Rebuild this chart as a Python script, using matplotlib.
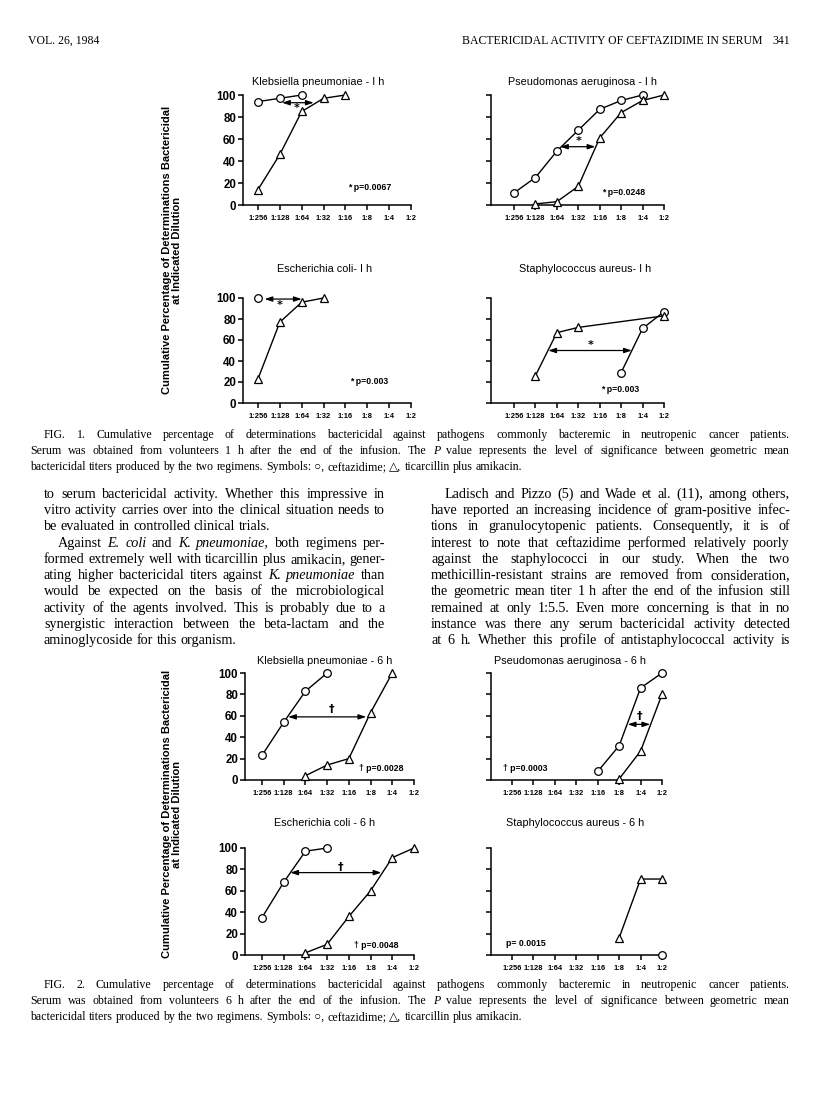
import matplotlib.pyplot as plt
import numpy as np

W, H = 816, 1093

dilutions = ['1:256', '1:128', '1:64', '1:32', '1:16', '1:8', '1:4', '1:2']

# FIG. 1 - 1 h   (x = index into dilutions)
kp1_cef_x, kp1_cef = [0, 1, 2], [94, 97, 100]
kp1_tic_x, kp1_tic = [0, 1, 2, 3, 4], [14, 46, 85, 97, 100]
pa1_cef_x, pa1_cef = [0, 1, 2, 3, 4, 5, 6], [11, 25, 49, 68, 87, 95, 100]
pa1_tic_x, pa1_tic = [1, 2, 3, 4, 5, 6, 7], [1, 3, 17, 61, 84, 95, 100]
ec1_cef_x, ec1_cef = [0], [100]
ec1_tic_x, ec1_tic = [0, 1, 2, 3], [23, 77, 96, 100]
sa1_cef_x, sa1_cef = [5, 6, 7], [29, 71, 87]
sa1_tic_x, sa1_tic = [1, 2, 3, 7], [26, 67, 72, 83]

# FIG. 2 - 6 h
kp6_cef_x, kp6_cef = [0, 1, 2, 3], [23, 54, 83, 100]
kp6_tic_x, kp6_tic = [2, 3, 4, 5, 6], [4, 14, 20, 63, 100]
pa6_cef_x, pa6_cef = [4, 5, 6, 7], [8, 32, 86, 100]
pa6_tic_x, pa6_tic = [5, 6, 7], [1, 27, 80]
ec6_cef_x, ec6_cef = [0, 1, 2, 3], [35, 68, 97, 100]
ec6_tic_x, ec6_tic = [2, 3, 4, 5, 6, 7], [2, 10, 36, 60, 91, 100]
sa6_cef_x, sa6_cef = [7], [0]
sa6_tic_x, sa6_tic = [5, 6, 7], [16, 71, 71]

SANS = 'Liberation Sans'
SERIF = ['Liberation Serif', 'DejaVu Serif', 'DejaVu Sans']

fig = plt.figure(figsize=(W / 100, H / 100), dpi=100)


def fy(y):
    return 1 - y / H


def panel(axis_x, x0, x7, y100, y0, labels=True):
    sp = (x7 - x0) / 7
    ax = fig.add_axes([axis_x / W, fy(y0), (x7 - axis_x) / W, (y0 - y100) / H])
    ax.set_xlim(-(x0 - axis_x) / sp, 7)
    ax.set_ylim(0, 100)
    ax.patch.set_alpha(0)
    for s in ['top', 'right']:
        ax.spines[s].set_visible(False)
    ax.spines['left'].set_linewidth(1.1)
    ax.spines['bottom'].set_linewidth(1.1)
    ax.set_xticks(range(8))
    ax.set_xticklabels(dilutions, fontsize=5.4, fontweight='bold', family=SANS)
    ax.set_yticks(range(0, 101, 20))
    if labels:
        ax.set_yticklabels([str(v) for v in range(0, 101, 20)], fontsize=8.3,
                           fontweight='bold', family=SANS)
    else:
        ax.set_yticklabels([])
    ax.tick_params(axis='both', direction='out', length=3.5, width=1.1, pad=1.5)
    ax.tick_params(axis='x', pad=4)
    return ax


def curves(ax, cx, cy, tx, ty):
    ax.plot(cx, cy, '-', color='black', lw=1.0, marker='o', ms=5.5,
            mfc='white', mec='black', mew=0.9, clip_on=False, zorder=3)
    ax.plot(tx, ty, '-', color='black', lw=1.0, marker='^', ms=6,
            mfc='white', mec='black', mew=0.9, clip_on=False, zorder=3)


def sig(ax, y, xa, xb, sx, sy, sym):
    ax.annotate('', xy=(xb, y), xytext=(xa, y),
                arrowprops=dict(arrowstyle='<|-|>,head_length=0.45,head_width=0.15',
                                color='black', lw=0.9, shrinkA=0, shrinkB=0))
    ax.text(sx, sy, sym, ha='center', va='center', fontsize=8, fontweight='bold')


def ptext(ax, x, y, s):
    ax.text(x, y, s, ha='left', va='center', fontsize=6.3, fontweight='bold', family=SANS)


def title(x, y, s):
    fig.text(x / W, fy(y), s, ha='center', va='center', fontsize=7.8, family=SANS)


# ---------------- FIG. 1 ----------------
ax = panel(243, 258, 411, 95, 205)
curves(ax, kp1_cef_x, kp1_cef, kp1_tic_x, kp1_tic)
sig(ax, 93, 1.1, 2.55, 1.75, 88, '*')
ptext(ax, 4.1, 16, '* p=0.0067')
title(318, 82, 'Klebsiella pneumoniae - I h')

ax = panel(491, 514, 664, 95, 205, labels=False)
curves(ax, pa1_cef_x, pa1_cef, pa1_tic_x, pa1_tic)
sig(ax, 53, 2.15, 3.8, 3.0, 58, '*')
ptext(ax, 4.1, 11, '* p=0.0248')
title(583, 82, 'Pseudomonas aeruginosa - I h')

ax = panel(243, 258, 411, 298, 403)
curves(ax, ec1_cef_x, ec1_cef, ec1_tic_x, ec1_tic)
sig(ax, 99, 0.3, 2.0, 1.0, 93, '*')
ptext(ax, 4.2, 20, '* p=0.003')
title(325, 269, 'Escherichia coli- I h')

ax = panel(491, 514, 664, 298, 403, labels=False)
curves(ax, sa1_cef_x, sa1_cef, sa1_tic_x, sa1_tic)
sig(ax, 50, 1.6, 5.5, 3.6, 55, '*')
ptext(ax, 4.05, 13, '* p=0.003')
title(585, 269, 'Staphylococcus aureus- I h')

# ---------------- FIG. 2 ----------------
ax = panel(245, 262, 414, 673, 780)
curves(ax, kp6_cef_x, kp6_cef, kp6_tic_x, kp6_tic)
sig(ax, 59, 1.2, 4.8, 3.2, 66, '\u2020')
ptext(ax, 4.45, 11, '\u2020 p=0.0028')
title(325, 661, 'Klebsiella pneumoniae - 6 h')

ax = panel(491, 512, 662, 673, 780, labels=False)
curves(ax, pa6_cef_x, pa6_cef, pa6_tic_x, pa6_tic)
sig(ax, 52, 5.4, 6.45, 5.95, 60, '\u2020')
ptext(ax, -0.4, 11, '\u2020 p=0.0003')
title(570, 661, 'Pseudomonas aeruginosa - 6 h')

ax = panel(245, 262, 414, 848, 955)
curves(ax, ec6_cef_x, ec6_cef, ec6_tic_x, ec6_tic)
sig(ax, 77, 1.3, 5.5, 3.6, 82, '\u2020')
ptext(ax, 4.25, 9, '\u2020 p=0.0048')
title(325, 823, 'Escherichia coli - 6 h')

ax = panel(491, 512, 662, 848, 955, labels=False)
curves(ax, sa6_cef_x, sa6_cef, sa6_tic_x, sa6_tic)
ptext(ax, -0.3, 11, 'p= 0.0015')
title(575, 823, 'Staphylococcus aureus - 6 h')

ylab = 'Cumulative Percentage of Determinations Bactericidal\nat Indicated Dilution'
for yc in [250, 814]:
    fig.text(172 / W, fy(yc), ylab, rotation=90, ha='center', va='center',
             fontsize=8, fontweight='bold', family=SANS, linespacing=1.0)

# ---------------- page text ----------------
renderer = fig.canvas.get_renderer()


def put_line(line, x0, x1, y, size, justify=True):
    # y is the vertical middle of the line; words sit on a shared baseline
    base = y + size * 100 / 72 * 0.33
    words = line.split(' ')
    objs, widths = [], []
    for w in words:
        style = 'normal'
        if w.startswith('~'):
            w, style = w[1:], 'italic'
        t = fig.text(0, fy(base), w, fontsize=size, family=SERIF, style=style,
                     va='baseline', ha='left')
        objs.append(t)
        widths.append(t.get_window_extent(renderer).width)
    space = size * 100 / 72 * 0.25
    if justify and len(words) > 1:
        space = (x1 - x0 - sum(widths)) / (len(words) - 1)
    x = x0
    for t, w in zip(objs, widths):
        t.set_x(x / W)
        x += w + space


fig.text(28 / W, fy(41), 'VOL. 26, 1984', fontsize=8.5, family=SERIF, va='center')
fig.text(462 / W, fy(41), 'BACTERICIDAL ACTIVITY OF CEFTAZIDIME IN SERUM',
         fontsize=8.5, family=SERIF, va='center')
fig.text(790 / W, fy(41), '341', fontsize=8.5, family=SERIF, va='center', ha='right')

cap1 = ['FIG. 1. Cumulative percentage of determinations bactericidal against pathogens commonly bacteremic in neutropenic cancer patients.',
        'Serum was obtained from volunteers 1 h after the end of the infusion. The ~P value represents the level of significance between geometric mean',
        'bactericidal titers produced by the two regimens. Symbols: \u25cb, ceftazidime; \u25b3, ticarcillin plus amikacin.']
cap2 = ['FIG. 2. Cumulative percentage of determinations bactericidal against pathogens commonly bacteremic in neutropenic cancer patients.',
        'Serum was obtained from volunteers 6 h after the end of the infusion. The ~P value represents the level of significance between geometric mean',
        'bactericidal titers produced by the two regimens. Symbols: \u25cb, ceftazidime; \u25b3, ticarcillin plus amikacin.']
for cap, y0 in [(cap1, 434), (cap2, 984)]:
    for i, line in enumerate(cap):
        x0 = 44 if i == 0 else 30
        put_line(line, x0, 790, y0 + i * 16, 8.6, justify=(i < 2))

left_col = ['to serum bactericidal activity. Whether this impressive in',
            'vitro activity carries over into the clinical situation needs to',
            'be evaluated in controlled clinical trials.',
            'Against ~E. ~coli and ~K. ~pneumoniae, both regimens per-',
            'formed extremely well with ticarcillin plus amikacin, gener-',
            'ating higher bactericidal titers against ~K. ~pneumoniae than',
            'would be expected on the basis of the microbiological',
            'activity of the agents involved. This is probably due to a',
            'synergistic interaction between the beta-lactam and the',
            'aminoglycoside for this organism.']
right_col = ['Ladisch and Pizzo (5) and Wade et al. (11), among others,',
             'have reported an increasing incidence of gram-positive infec-',
             'tions in granulocytopenic patients. Consequently, it is of',
             'interest to note that ceftazidime performed relatively poorly',
             'against the staphylococci in our study. When the two',
             'methicillin-resistant strains are removed from consideration,',
             'the geometric mean titer 1 h after the end of the infusion still',
             'remained at only 1:5.5. Even more concerning is that in no',
             'instance was there any serum bactericidal activity detected',
             'at 6 h. Whether this profile of antistaphylococcal activity is']
left_last = {2, 9}
left_indent = {3}
for i, line in enumerate(left_col):
    x0 = 58 if i in left_indent else 44
    put_line(line, x0, 385, 493 + i * 16.3, 10.2, justify=(i not in left_last))
for i, line in enumerate(right_col):
    x0 = 445 if i == 0 else 431
    put_line(line, x0, 790, 493 + i * 16.3, 10.2, justify=True)

fig.savefig('out.png', dpi=100)
